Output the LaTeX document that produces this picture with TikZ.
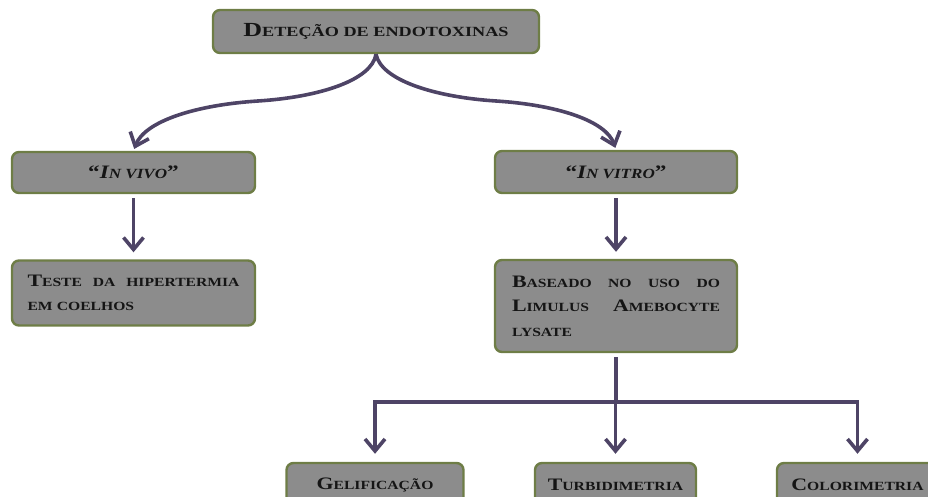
\documentclass[tikz,border=0pt]{standalone}
\usepackage{fontspec}
\newfontfamily\widefont[FakeStretch=1.3]{Liberation Serif}
\newfontfamily\bodyfont[FakeStretch=1.25]{Liberation Serif}
\newfontfamily\quotefont[FakeStretch=1.22]{Liberation Serif}
\usetikzlibrary{arrows.meta}
\definecolor{boxfill}{HTML}{8C8C8C}
\definecolor{boxline}{HTML}{6E7D46}
\definecolor{arrowcol}{HTML}{4E4466}
\definecolor{ink}{HTML}{151515}
% larger capitals for the hand-made small caps
\newcommand\Kp[1]{{\fontsize{17.5}{17.5}\selectfont #1}}
\newcommand\Kt[1]{{\fontsize{20}{20}\selectfont #1}}
\newcommand\Kq[1]{{\fontsize{19}{19}\selectfont #1}}
% a fully justified line of given width
\newcommand\jline[2]{\leavevmode\hbox to #1{#2}}

\begin{document}
\begin{tikzpicture}[x=1pt,y=-1pt,
  box/.style={draw=boxline, line width=2.4pt, fill=boxfill, rounded corners=7pt,
    inner sep=0pt, text=ink,
    font=\bodyfont\bfseries\fontsize{12.5}{24.5}\selectfont},
  link/.style={draw=arrowcol, line width=3.6pt},
  arr/.style={link, -{Straight Barb[length=12pt,width=20pt]}},
]
\useasboundingbox (0,0) rectangle (928,497);
\clip (0,0) rectangle (928,497);

% boxes
\node[box, minimum width=326pt, minimum height=43pt,
  font=\widefont\bfseries\fontsize{14}{16}\selectfont] (top) at (376,31.5)
  {\Kt{D}ETEÇÃO DE ENDOTOXINAS};
\node[box, minimum width=243pt, minimum height=41pt,
  font=\quotefont\bfseries\fontsize{14}{16}\selectfont] (vivo) at (133.5,172.5)
  {\Kq{“}\itshape\Kq{I}N VIVO\upshape\Kq{”}};
\node[box, minimum width=242pt, minimum height=42pt,
  font=\quotefont\bfseries\fontsize{14}{16}\selectfont] (vitro) at (616,172)
  {\Kq{“}\itshape\Kq{I}N VITRO\upshape\Kq{”}};
\node[box, minimum width=243pt, minimum height=65pt, text width=212pt, align=left] (teste) at (133.5,293)
  {\jline{212pt}{\Kp{T}ESTE\hfill DA\hfill HIPERTERMIA}\\EM COELHOS};
\node[box, minimum width=242pt, minimum height=92pt, text width=208pt, align=left] (lal) at (616,306)
  {\jline{208pt}{\Kp{B}ASEADO\hfill NO\hfill USO\hfill DO}\\
   \jline{208pt}{\Kp{L}IMULUS\hfill\Kp{A}MEBOCYTE}\\LYSATE};
\node[box, minimum width=177pt, minimum height=44pt] (gel) at (375,485)
  {\Kp{G}ELIFICAÇÃO};
\node[box, minimum width=161pt, minimum height=44pt] (turb) at (615.5,485)
  {\Kp{T}URBIDIMETRIA};
\node[box, minimum width=161pt, minimum height=44pt] (col) at (857.5,485)
  {\Kp{C}OLORIMETRIA};

% curved branches from the title
\coordinate (lm) at (258,101);
\coordinate (rm) at (496,101);
\draw[arr, shorten >=2pt] (top.south) .. controls (372,80) and (320,97) .. (lm)
  .. controls (196,105) and (145,121) .. (vivo.north);
\draw[arr, shorten >=2pt] (top.south) .. controls (381,80) and (434,97) .. (rm)
  .. controls (558,105) and (606,121) .. (vitro.north);

% straight arrows
\draw[arr, shorten <=4pt, shorten >=7pt] (vivo) -- (teste);
\draw[arr, shorten <=4pt, shorten >=7pt] (vitro) -- (lal);

% bus to the three methods
\coordinate (bus) at (616,402);
\draw[link, shorten <=4pt] (lal) -- (bus);
\draw[arr, shorten >=8pt] (bus) -| (gel.north);
\draw[arr, shorten >=8pt] (bus) -| (col.north);
\draw[arr, shorten >=8pt] (bus) -- (bus -| turb.north) -- (turb.north);
\end{tikzpicture}
\end{document}
